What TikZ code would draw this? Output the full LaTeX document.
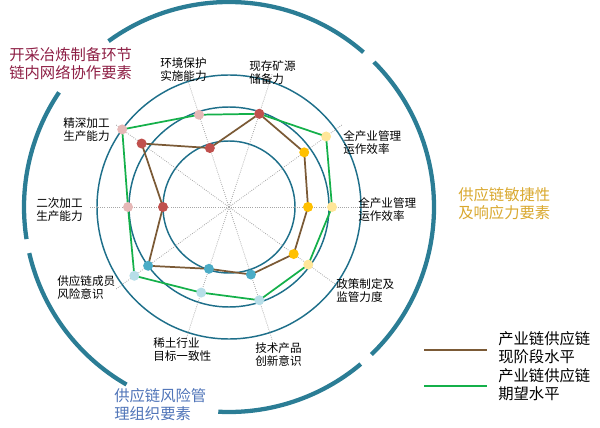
\documentclass[tikz,border=0pt]{standalone}
\usepackage{fontspec}
\usetikzlibrary{calc}
\setmainfont{Liberation Sans}
\newfontfamily\cjk{Noto Sans CJK SC}
\begin{document}
\begin{tikzpicture}[x=0.75pt,y=-0.75pt,
  ring/.style={line width=3.2pt,color=ringc},
  grid/.style={line width=1.1pt,color=gridc},
  spoke/.style={densely dotted,color=gray!70,line width=0.6pt},
  cur/.style={line width=1.3pt,color=curc},
  tgt/.style={line width=1.3pt,color=tgtc},
  dot/.style={circle,inner sep=0pt,minimum size=7.5pt,fill=#1},
  lab/.style={font=\cjk\fontsize{8.7}{10}\selectfont,align=left,anchor=north west,inner sep=0pt},
  ttl/.style={font=\cjk\fontsize{11.5}{14}\selectfont,align=left,anchor=north west,inner sep=0pt},
]
\definecolor{ringc}{HTML}{2B7D95}
\definecolor{gridc}{HTML}{1E6F8A}
\definecolor{curc}{HTML}{7B5A36}
\definecolor{tgtc}{HTML}{14B04A}
\definecolor{rA}{HTML}{C0504D}\definecolor{pA}{HTML}{E6B8B7}
\definecolor{rB}{HTML}{FFC000}\definecolor{pB}{HTML}{FFE699}
\definecolor{rC}{HTML}{4BACC6}\definecolor{pC}{HTML}{B7DEE8}
\definecolor{t1c}{HTML}{8E1F45}\definecolor{t2c}{HTML}{D9A82E}\definecolor{t3c}{HTML}{4F74B8}
\useasboundingbox (0,0) rectangle (600,428);
\coordinate (C) at (229,207);
% outer ring arcs
\foreach \a/\b in {49/126,146/189,193/240,267/310,314/405}{
  \draw[ring] ($(C)+(-\a:205)$) arc[start angle=-\a,end angle=-\b,radius=205];
}
\foreach \r in {66,100,132} \draw[grid] (C) circle[radius=\r];
\foreach \a in {0,36,...,324} \draw[spoke] (C) -- ++(-\a:140);
% data
\foreach \i/\a/\rc/\rt in {0/0/79/103,1/36/93/120,2/72/98/98,3/108/62/97,4/144/108/132,5/180/66/101,6/216/100/117,7/252/65/90,8/288/71/98,9/324/80/98}{
  \coordinate (c\i) at ($(C)+(-\a:\rc)$);
  \coordinate (t\i) at ($(C)+(-\a:\rt)$);
}
\draw[tgt] (t0)--(t1)--(t2)--(t3)--(t4)--(t5)--(t6)--(t7)--(t8)--(t9)--cycle;
\draw[cur] (c0)--(c1)--(c2)--(c3)--(c4)--(c5)--(c6)--(c7)--(c8)--(c9)--cycle;
\foreach \i/\p/\q in {0/rB/pB,1/rB/pB,2/rA/pA,3/rA/pA,4/rA/pA,5/rA/pA,6/rC/pC,7/rC/pC,8/rC/pC,9/rB/pB}{
  \node[dot=\q] (tn\i) at (t\i) {};
  \node[dot=\p] (cn\i) at (c\i) {};
}
% labels
\node[lab] (l1) at (160,57) {环境保护\\实施能力};
\node[lab] (l2) at (249,60) {现存矿源\\储备力};
\node[lab] (l3) at (343,130) {全产业管理\\运作效率};
\node[lab] (l4) at (358,197) {全产业管理\\运作效率};
\node[lab] (l5) at (336,278) {政策制定及\\监管力度};
\node[lab] (l6) at (255,342) {技术产品\\创新意识};
\node[lab] (l7) at (153,337) {稀土行业\\目标一致性};
\node[lab] (l8) at (57,275) {供应链成员\\风险意识};
\node[lab] (l9) at (36,197) {二次加工\\生产能力};
\node[lab] (l10) at (63,117) {精深加工\\生产能力};
% titles
\node[ttl,text=t1c] (T1) at (9,47) {开采冶炼制备环节\\链内网络协作要素};
\node[ttl,text=t2c] (T2) at (458,187) {供应链敏捷性\\及响应力要素};
\node[ttl,text=t3c] (T3) at (114,388) {供应链风险管\\理组织要素};
% legend
\coordinate (a1) at (424,350); \coordinate (a2) at (487,350);
\coordinate (b1) at (424,386); \coordinate (b2) at (487,386);
\draw[cur] (a1)--(a2);
\draw[tgt] (b1)--(b2);
\node[ttl] (L1) at (498,331) {产业链供应链\\现阶段水平};
\node[ttl] (L2) at (498,368) {产业链供应链\\期望水平};
\end{tikzpicture}
\end{document}
